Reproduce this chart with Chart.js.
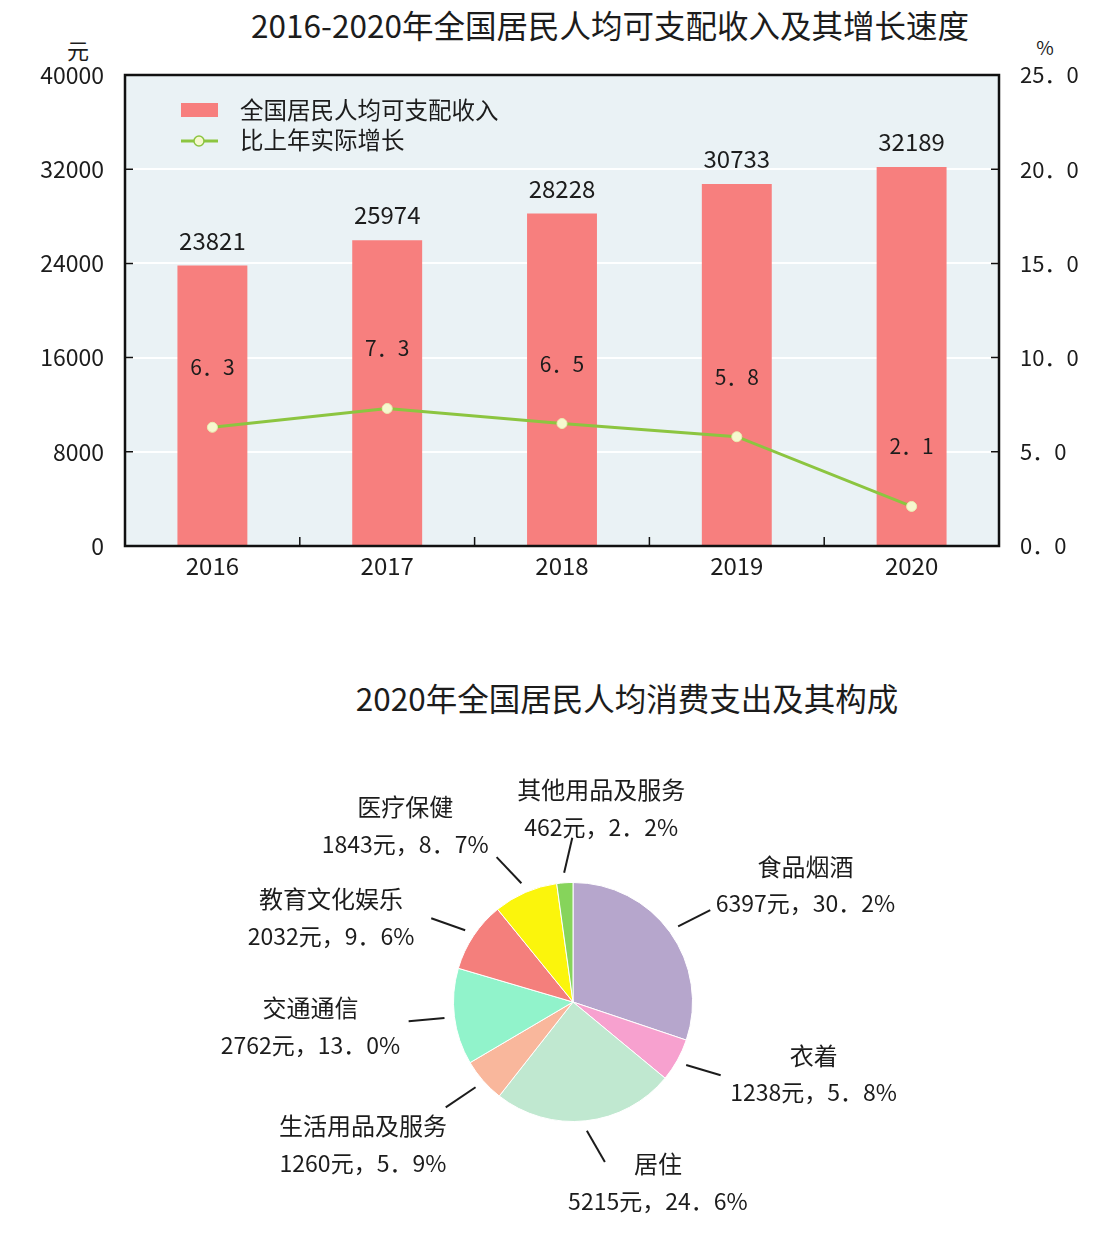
<!DOCTYPE html>
<html>
<head>
<meta charset="utf-8">
<script src="https://cdn.jsdelivr.net/npm/chart.js@4"></script>
<style>
  body { margin: 0; background: #fff; width: 1112px; height: 1258px; position: relative; overflow: hidden;
         font-family: "Noto Sans CJK SC", sans-serif; color: #1c1c1c; }
  .title { position: absolute; font-size: 31.5px; line-height: 38px; white-space: nowrap; transform: translateX(-50%); }
  .unit { position: absolute; font-size: 22px; line-height: 26px; transform: translateX(-50%); }
  canvas { position: absolute; left: 0; }
</style>
</head>
<body>
<div class="title" style="left:610px;top:5px">2016-2020年全国居民人均可支配收入及其增长速度</div>
<div class="unit" style="left:78px;top:36px">元</div>
<div class="unit" style="left:1045px;top:34px;font-size:19px">%</div>
<canvas id="incomeChart" width="1112" height="600" style="top:0"></canvas>

<div class="title" style="left:627px;top:678px">2020年全国居民人均消费支出及其构成</div>
<canvas id="spendChart" width="1112" height="658" style="top:600px"></canvas>

<script>
'use strict';

// top chart data
let years = ['2016', '2017', '2018', '2019', '2020'];
let income = [23821, 25974, 28228, 30733, 32189];
let growth = [6.3, 7.3, 6.5, 5.8, 2.1];
let incomeName = '全国居民人均可支配收入';
let growthName = '比上年实际增长';

// pie data
let spendNames = ['食品烟酒', '衣着', '居住', '生活用品及服务', '交通通信', '教育文化娱乐', '医疗保健', '其他用品及服务'];
let spendValues = [6397, 1238, 5215, 1260, 2762, 2032, 1843, 462];
let spendShares = [30.2, 5.8, 24.6, 5.9, 13.0, 9.6, 8.7, 2.2];
let spendColors = ['#b6a6cc', '#f7a1cf', '#c0e8d0', '#f9b79c', '#91f3cb', '#f47f7c', '#fbf50c', '#86d45b'];

// hand placement of the pie labels, px away from the automatic spot
let labelNudge = [[21, -4], [13, -22], [57, -12], [-14, 15], [-4, 1], [-25, 23], [-64, 1], [46, 0]];

const FONT = '"Noto Sans CJK SC", sans-serif';
const TXT = '#1c1c1c';

function fmt(v) {
  return v.toFixed(1).replace('.', '．');
}

// fill plot area
const plotBg = {
  id: 'plotBg',
  beforeDraw(chart) {
    let a = chart.chartArea;
    let ctx = chart.ctx;
    ctx.save();
    ctx.fillStyle = '#eaf2f5';
    ctx.fillRect(a.left, a.top, a.right - a.left, a.bottom - a.top);
    ctx.restore();
  }
};

// frame, inward ticks, value labels and legend
const extras = {
  id: 'extras',
  afterDatasetsDraw(chart) {
    let ctx = chart.ctx;
    let a = chart.chartArea;
    let xs = chart.scales.x, ys = chart.scales.y, ys1 = chart.scales.y1;
    ctx.save();
    ctx.strokeStyle = '#111';
    ctx.lineWidth = 2.5;
    ctx.strokeRect(a.left, a.top, a.right - a.left, a.bottom - a.top);

    ctx.lineWidth = 1.5;
    ctx.beginPath();
    ys.ticks.forEach(t => {
      let y = ys.getPixelForValue(t.value);
      ctx.moveTo(a.left, y); ctx.lineTo(a.left + 8, y);
    });
    ys1.ticks.forEach(t => {
      let y = ys1.getPixelForValue(t.value);
      ctx.moveTo(a.right, y); ctx.lineTo(a.right - 8, y);
    });
    for (let i = 0; i < years.length - 1; i++) {
      let x = (xs.getPixelForValue(i) + xs.getPixelForValue(i + 1)) / 2;
      ctx.moveTo(x, a.bottom); ctx.lineTo(x, a.bottom - 9);
    }
    ctx.stroke();

    ctx.fillStyle = TXT;
    ctx.font = '24px ' + FONT;
    ctx.textAlign = 'center';
    ctx.textBaseline = 'middle';
    let barMeta = chart.getDatasetMeta(1);
    barMeta.data.forEach((bar, i) => {
      ctx.fillText(String(income[i]), bar.x, bar.y - 25);
    });
    ctx.font = '21px ' + FONT;
    let lineMeta = chart.getDatasetMeta(0);
    lineMeta.data.forEach((pt, i) => {
      ctx.fillText(fmt(growth[i]), pt.x, pt.y - 60);
    });

    // legend
    let lx = a.left + 56;
    ctx.fillStyle = chart.data.datasets[1].backgroundColor;
    ctx.fillRect(lx, 103, 37, 14);
    ctx.strokeStyle = chart.data.datasets[0].borderColor;
    ctx.lineWidth = 3;
    ctx.beginPath();
    ctx.moveTo(lx, 141); ctx.lineTo(lx + 37, 141);
    ctx.stroke();
    ctx.fillStyle = '#f6f8cf';
    ctx.lineWidth = 1.5;
    ctx.beginPath();
    ctx.arc(lx + 18, 141, 5, 0, Math.PI * 2);
    ctx.fill(); ctx.stroke();
    ctx.fillStyle = TXT;
    ctx.font = '23.5px ' + FONT;
    ctx.textAlign = 'left';
    ctx.fillText(chart.data.datasets[1].label, lx + 59, 110);
    ctx.fillText(chart.data.datasets[0].label, lx + 59, 140);
    ctx.restore();
  }
};

new Chart(document.getElementById('incomeChart'), {
  data: {
    labels: years,
    datasets: [
      {
        type: 'line',
        label: growthName,
        data: growth,
        yAxisID: 'y1',
        borderColor: '#8cc540',
        borderWidth: 3,
        pointRadius: 5,
        pointBackgroundColor: '#f6f8cf',
        pointBorderColor: '#e9eeb0',
        pointBorderWidth: 1,
        tension: 0,
        order: 0
      },
      {
        type: 'bar',
        label: incomeName,
        data: income,
        yAxisID: 'y',
        backgroundColor: '#f77f7e',
        barPercentage: 0.4,
        categoryPercentage: 1,
        order: 1
      }
    ]
  },
  options: {
    responsive: false,
    animation: false,
    layout: { padding: { top: 75, left: 0, right: 0, bottom: 0 } },
    plugins: { legend: { display: false }, tooltip: { enabled: false } },
    scales: {
      x: {
        grid: { display: false },
        border: { display: false },
        ticks: { font: { size: 24, family: FONT }, color: TXT, padding: -3 },
        afterFit(s) { s.height = 54; }
      },
      y: {
        position: 'left',
        min: 0,
        max: 40000,
        ticks: { stepSize: 8000, font: { size: 23, family: FONT }, color: TXT, padding: 21, callback: v => String(v) },
        grid: { color: 'rgba(255,255,255,0.95)', lineWidth: 2, drawTicks: false },
        border: { display: false },
        afterFit(s) { s.width = 125; }
      },
      y1: {
        position: 'right',
        min: 0,
        max: 25,
        ticks: { stepSize: 5, font: { size: 22, family: FONT }, color: TXT, padding: 21, callback: v => fmt(v) },
        grid: { display: false, drawTicks: false },
        border: { display: false },
        afterFit(s) { s.width = 113; }
      }
    }
  },
  plugins: [plotBg, extras]
});

// leader lines and labels round the pie
const pieLabels = {
  id: 'pieLabels',
  afterDatasetsDraw(chart) {
    let ctx = chart.ctx;
    let meta = chart.getDatasetMeta(0);
    ctx.save();
    ctx.fillStyle = TXT;
    ctx.strokeStyle = '#1c1c1c';
    ctx.lineWidth = 2;
    ctx.textBaseline = 'middle';
    ctx.textAlign = 'center';
    meta.data.forEach((arc, i) => {
      let p = arc.getProps(['x', 'y', 'startAngle', 'endAngle', 'outerRadius'], true);
      let mid = (p.startAngle + p.endAngle) / 2;
      let ux = Math.cos(mid), uy = Math.sin(mid);
      // label block sits on an ellipse round the pie
      let cx = p.x + ux * p.outerRadius * 2.18 + labelNudge[i][0];
      let cy = p.y + uy * p.outerRadius * 1.62 + labelNudge[i][1];
      // leader from just outside the arc, halfway between radial and towards the label
      let sx = p.x + ux * (p.outerRadius + 10), sy = p.y + uy * (p.outerRadius + 10);
      let dx = cx - sx, dy = cy - sy, d = Math.hypot(dx, dy);
      let vx = ux + dx / d, vy = uy + dy / d, vl = Math.hypot(vx, vy);
      ctx.beginPath();
      ctx.moveTo(sx, sy);
      ctx.lineTo(sx + vx / vl * 36, sy + vy / vl * 36);
      ctx.stroke();

      ctx.font = '24px ' + FONT;
      ctx.fillText(spendNames[i], cx, cy - 18.5);
      ctx.font = '23px ' + FONT;
      ctx.fillText(spendValues[i] + '元，' + fmt(spendShares[i]) + '%', cx, cy + 18.5);
    });
    ctx.restore();
  }
};

new Chart(document.getElementById('spendChart'), {
  type: 'pie',
  data: {
    labels: spendNames,
    datasets: [{
      data: spendValues,
      backgroundColor: spendColors,
      borderColor: '#ffffff',
      borderWidth: 1
    }]
  },
  options: {
    responsive: false,
    animation: false,
    layout: { padding: { left: 453, right: 419, top: 282, bottom: 136 } },
    plugins: { legend: { display: false }, tooltip: { enabled: false } }
  },
  plugins: [pieLabels]
});
</script>
</body>
</html>
